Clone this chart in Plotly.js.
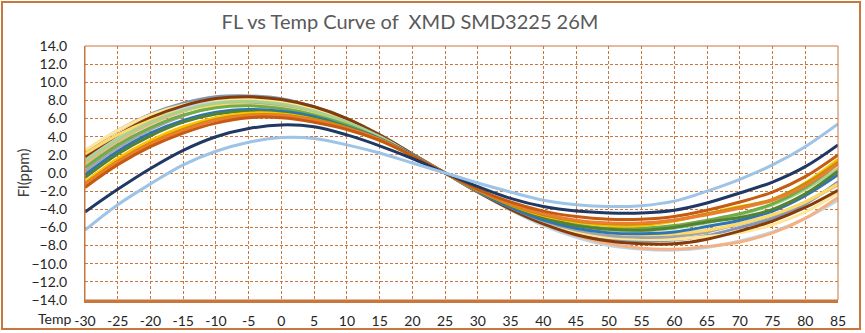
<!DOCTYPE html>
<html>
<head>
<meta charset="utf-8">
<script src="https://cdn.plot.ly/plotly-3.0.1.min.js"></script>
<style>
  html, body { margin: 0; padding: 0; background: #ffffff; }
  #wrap { position: relative; width: 865px; height: 333px; }
  #chart { width: 865px; height: 333px; }
  #frame { position: absolute; left: 1px; top: 1px; width: 856px; height: 325px;
           border: 2px solid #C8773F; pointer-events: none; }
</style>
</head>
<body>
<div id="wrap">
  <div id="chart"></div>
  <div id="frame"></div>
</div>
<script>
// Temperature points (°C)
const temps = [-30,-25,-20,-15,-10,-5,0,5,10,15,20,25,30,35,40,45,50,55,60,65,70,75,80,85];
const yTicks = [-14,-12,-10,-8,-6,-4,-2,0,2,4,6,8,10,12,14];

// FL (ppm) series
const sLightBlue = [-6.3,-3.5,-1.2,0.9,2.4,3.4,3.9,3.8,3.1,2.2,1.1,0.0,-1.1,-2.1,-3.0,-3.5,-3.7,-3.6,-3.1,-2.0,-0.7,0.9,2.9,5.4];
const sNavy      = [-4.3,-1.8,0.5,2.5,4.0,4.9,5.3,5.1,4.2,3.0,1.6,0.0,-1.5,-2.8,-3.7,-4.2,-4.4,-4.4,-4.1,-3.3,-2.2,-1.0,0.7,3.1];
const sRust      = [-1.6,0.9,2.9,4.4,5.5,6.1,6.1,5.6,4.8,3.6,1.9,0.0,-1.8,-3.2,-4.2,-4.8,-5.1,-5.1,-4.8,-4.1,-3.2,-2.1,-0.4,2.0];
const sGold      = [-1.2,1.3,3.3,4.8,5.9,6.4,6.4,5.9,5.0,3.7,1.9,0.0,-1.9,-3.5,-4.6,-5.3,-5.6,-5.6,-5.2,-4.5,-3.8,-2.9,-1.2,1.2];
const sOrange    = [-1.3,1.2,3.2,4.7,5.8,6.3,6.3,5.8,4.9,3.7,1.9,0.0,-1.8,-3.4,-4.5,-5.2,-5.5,-5.5,-5.2,-4.6,-3.9,-3.0,-1.4,1.0];
const sAmber     = [-1.0,1.6,3.6,5.1,6.1,6.6,6.5,5.9,4.9,3.6,1.9,0.0,-1.9,-3.5,-4.7,-5.4,-5.8,-5.8,-5.3,-4.5,-3.7,-3.0,-1.1,1.5];
const sDarkGreen = [-0.5,2.1,4.1,5.6,6.5,6.8,6.6,6.0,5.0,3.7,1.9,0.0,-1.9,-3.6,-4.9,-5.8,-6.2,-6.3,-6.0,-5.4,-4.9,-4.0,-2.3,0.2];
const sBlue      = [-0.2,2.4,4.4,5.8,6.7,7.0,6.8,6.2,5.1,3.8,2.0,0.0,-2.0,-3.8,-5.2,-6.1,-6.6,-6.7,-6.5,-5.9,-5.2,-4.2,-2.5,-0.2];
const sGray      = [0.2,2.8,4.8,6.3,7.3,7.6,7.4,6.7,5.6,4.0,2.0,0.0,-2.0,-3.8,-5.3,-6.3,-6.9,-7.1,-7.0,-6.5,-5.6,-4.7,-3.2,-1.3];
const sGreen     = [0.6,3.1,5.0,6.4,7.2,7.4,7.1,6.4,5.3,3.8,2.0,0.0,-1.9,-3.6,-4.9,-5.7,-6.1,-6.1,-5.8,-5.2,-4.5,-3.4,-1.6,1.0];
const sLightOrg  = [1.0,3.5,5.4,6.8,7.6,7.9,7.7,7.0,5.8,4.1,2.1,0.0,-2.1,-4.0,-5.6,-6.9,-7.8,-8.3,-8.4,-8.1,-7.6,-6.6,-5.0,-2.7];
const sLightGrn  = [1.3,3.7,5.6,6.9,7.7,7.9,7.6,6.8,5.6,4.0,2.0,0.0,-2.0,-3.7,-5.0,-5.9,-6.3,-6.4,-6.1,-5.5,-4.6,-3.5,-1.8,0.5];
const sPaleBlue  = [1.5,3.9,5.8,7.1,7.9,8.1,7.8,7.1,5.9,4.2,2.1,0.0,-2.1,-4.1,-5.8,-7.1,-8.0,-8.4,-8.5,-8.2,-7.5,-6.5,-5.0,-3.0];
const sBrown     = [1.8,4.2,6.1,7.4,8.2,8.4,8.1,7.3,6.0,4.2,2.1,0.0,-2.1,-4.0,-5.6,-6.8,-7.5,-7.8,-7.8,-7.3,-6.4,-5.3,-3.8,-1.9];
const sYellow    = [2.1,4.2,5.8,6.9,7.4,7.5,7.2,6.5,5.4,3.9,2.0,0.0,-1.9,-3.6,-5.0,-6.0,-6.6,-6.8,-6.7,-6.3,-5.6,-4.6,-3.2,-1.2];
const sSlate     = [2.3,4.7,6.5,7.7,8.4,8.5,8.2,7.3,6.0,4.2,2.1,0.0,-2.1,-4.0,-5.5,-6.6,-7.3,-7.5,-7.4,-6.9,-6.0,-5.0,-3.4,-1.0];
const sPaleYel   = [2.5,4.7,6.4,7.5,8.1,8.2,7.8,7.0,5.8,4.1,2.0,0.0,-2.0,-3.9,-5.4,-6.5,-7.1,-7.3,-7.3,-7.0,-6.6,-5.7,-4.3,-2.2];

const seriesList = [
  [sSlate,    '#8497B0'],
  [sPaleBlue, '#BDD7EE'],
  [sLightOrg, '#F4B183'],
  [sPaleYel,  '#FFE699'],
  [sBrown,    '#843C0C'],
  [sGray,     '#A5A5A5'],
  [sYellow,   '#FFD966'],
  [sLightGrn, '#A9D18E'],
  [sGreen,    '#70AD47'],
  [sBlue,     '#2E75B6'],
  [sDarkGreen,'#548235'],
  [sAmber,    '#FFC000'],
  [sGold,     '#BF9000'],
  [sOrange,   '#ED7D31'],
  [sRust,     '#C55A11'],
  [sNavy,     '#1F3864'],
  [sLightBlue,'#9DC3E6']
];

const traces = seriesList.map(([vals, col]) => ({
  x: temps, y: vals, type: 'scatter', mode: 'lines',
  line: {color: col, width: 3, shape: 'spline', smoothing: 1},
  hoverinfo: 'skip', showlegend: false
}));

const gridCol = '#C8773F';
const axisCol = '#C8773F';
const fontFam = 'Lato, "Open Sans", sans-serif';

const layout = {
  width: 865, height: 333,
  margin: {l: 85, r: 27, t: 46, b: 33},
  paper_bgcolor: '#ffffff', plot_bgcolor: '#ffffff',
  showlegend: false,
  title: {
    text: 'FL vs Temp Curve of \u00a0XMD SMD3225 26M',
    font: {family: fontFam, size: 20, color: '#595959'},
    x: 0.474, xanchor: 'center', y: 0.935, yanchor: 'middle'
  },
  xaxis: {
    range: [-30, 85], tickvals: temps, ticktext: temps.map(String),
    showgrid: true, gridcolor: gridCol, gridwidth: 1, griddash: '3px,2px',
    zeroline: false, showline: true, linecolor: axisCol, linewidth: 3,
    ticks: '', ticklabelstandoff: 6,
    tickfont: {family: fontFam, size: 14, color: '#262626'}
  },
  yaxis: {
    range: [-14, 14], tickvals: yTicks, tickformat: '.1f',
    showgrid: true, gridcolor: gridCol, gridwidth: 1, griddash: '3px,2px',
    zeroline: false, showline: true, linecolor: axisCol, linewidth: 1,
    ticks: '', ticklabelstandoff: 14,
    tickfont: {family: fontFam, size: 14, color: '#262626'}
  },
  shapes: [
    {type: 'rect', xref: 'paper', yref: 'paper', x0: 0, x1: 1, y0: 0, y1: 1,
     line: {color: axisCol, width: 1}, layer: 'above'}
  ],
  annotations: [
    {text: 'Fl(ppm)', xref: 'paper', yref: 'paper', x: -0.082, y: 0.5,
     xanchor: 'center', yanchor: 'middle', textangle: -90, showarrow: false,
     font: {family: fontFam, size: 15, color: '#404040'}},
    {text: 'Temp', xref: 'paper', yref: 'paper', x: -0.0165, y: -0.071,
     xanchor: 'right', yanchor: 'middle', showarrow: false,
     font: {family: fontFam, size: 14, color: '#262626'}}
  ]
};

Plotly.newPlot('chart', traces, layout, {staticPlot: true, displayModeBar: false});
</script>
</body>
</html>
